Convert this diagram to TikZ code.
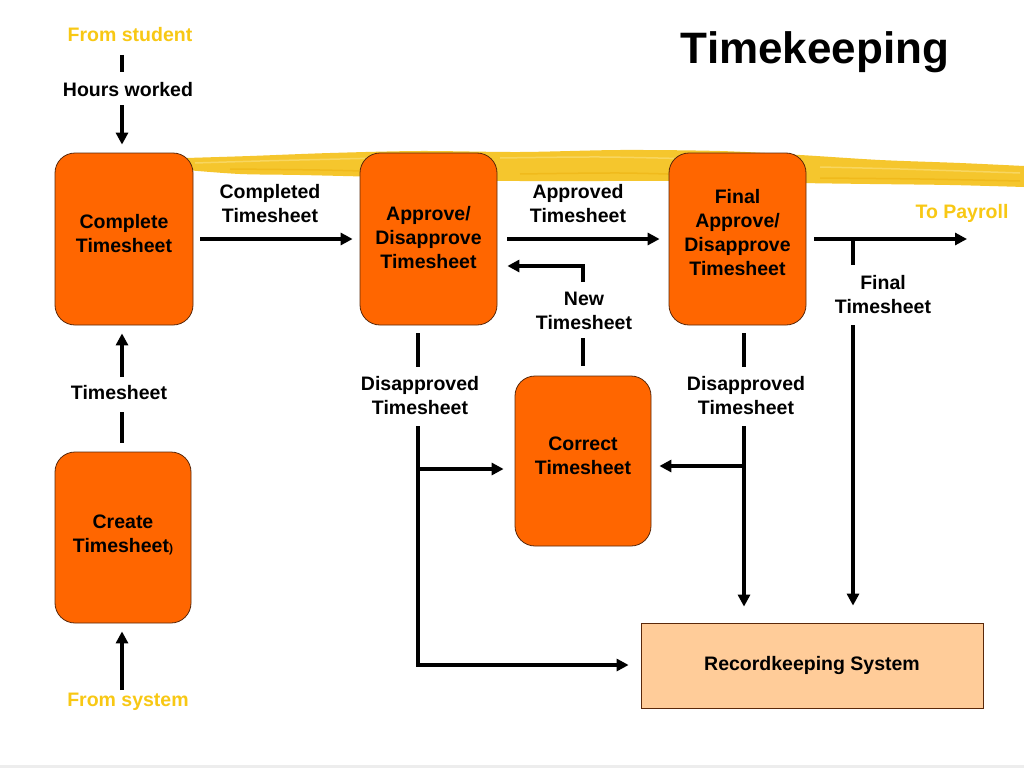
\documentclass[tikz,border=0pt]{standalone}
\usepackage{fontspec}
\setmainfont{Liberation Sans}
\usetikzlibrary{arrows.meta,calc}
\definecolor{boxorange}{RGB}{255,102,0}
\definecolor{boxedge}{RGB}{90,40,10}
\definecolor{peach}{RGB}{255,204,153}
\definecolor{gold}{RGB}{248,200,20}
\definecolor{bandY}{RGB}{245,198,45}
\definecolor{bandL}{RGB}{248,214,95}
\definecolor{bandD}{RGB}{240,186,28}
\begin{document}
\begin{tikzpicture}[x=1pt,y=-1pt,
  font=\bfseries\fontsize{19.5}{24}\selectfont,
  proc/.style={draw=boxedge, line width=0.8pt, fill=boxorange, rounded corners=20pt,
    align=center, inner sep=0pt},
  recbox/.style={draw=boxedge, line width=0.8pt, fill=peach, align=center, inner sep=0pt},
  lbl/.style={align=center, inner sep=0pt},
  ylbl/.style={lbl, text=gold},
  ln/.style={line width=4pt},
  arr/.style={ln, -{Triangle[length=12pt,width=12pt]}}]
\useasboundingbox (0,0) rectangle (1024,768);
\fill[white] (0,0) rectangle (1024,768);
% bottom rule
\fill[black!7] (0,765) rectangle (1024,768);
% brush stroke band
\fill[bandY] plot[smooth] coordinates {(186,158) (250,156) (330,153) (420,151) (520,152) (620,150) (720,151) (800,155) (880,160) (960,163) (1024,166)}
  -- plot[smooth] coordinates {(1024,187) (950,185) (870,184) (800,183) (700,181) (600,181) (520,181) (460,180) (380,177) (300,175) (240,174) (186,170)} -- cycle;
\draw[bandL, line width=1.5pt] plot[smooth] coordinates {(195,163) (260,161) (340,159) (420,157)};
\draw[bandL, line width=1.5pt] plot[smooth] coordinates {(500,158) (600,157) (700,159)};
\draw[bandL, line width=1.5pt] plot[smooth] coordinates {(820,167) (900,169) (1020,173)};
\draw[bandD, line width=1.5pt] plot[smooth] coordinates {(230,169) (320,170) (400,172)};
\draw[bandD, line width=1.5pt] plot[smooth] coordinates {(520,174) (620,173) (700,175)};
\draw[bandD, line width=1.5pt] plot[smooth] coordinates {(820,178) (920,179) (1020,181)};

% title
\node[lbl, font=\bfseries\fontsize{44}{50}\selectfont] (title) at (815,52) {Timekeeping};

% process boxes
\node[proc, minimum width=138pt, minimum height=172pt] (cts) at (124,239) {};
\node[lbl] at (124,234) {Complete\\Timesheet};
\node[proc, minimum width=137pt, minimum height=172pt] (adt) at (428.5,239) {};
\node[lbl] at (428.5,238) {Approve/\\Disapprove\\Timesheet};
\node[proc, minimum width=137pt, minimum height=172pt] (fadt) at (737.5,239) {};
\node[lbl] at (737.5,233) {Final\\Approve/\\Disapprove\\Timesheet};
\node[proc, minimum width=136pt, minimum height=170pt] (cor) at (583,461) {};
\node[lbl] at (583,456) {Correct\\Timesheet};
\node[proc, minimum width=136pt, minimum height=171pt] (crt) at (123,537.5) {};
\node[lbl] at (123,535) {Create\\Timesheet{\fontsize{12}{14}\selectfont)}};
\node[recbox, minimum width=342pt, minimum height=85pt] (rks) at (812,665.5) {Recordkeeping System};

% labels
\node[ylbl] (fs) at (130,35) {From student};
\node[lbl] (hw) at (128,90) {Hours worked};
\node[lbl] (lcomp) at (270,204) {Completed\\Timesheet};
\node[lbl] (lappr) at (578,204) {Approved\\Timesheet};
\node[ylbl] (pay) at (962,213) {To Payroll};
\node[lbl] (lfin) at (883,295) {Final\\Timesheet};
\node[lbl] (lnew) at (584,311) {New\\Timesheet};
\node[lbl] (ldis1) at (420,396) {Disapproved\\Timesheet};
\node[lbl] (ldis2) at (746,396) {Disapproved\\Timesheet};
\node[lbl] (lts) at (119,393) {Timesheet};
\node[ylbl] (fsys) at (128,702) {From system};

% connector coordinates
\coordinate (a1) at (122,55);
\coordinate (a2) at (122,72);
\coordinate (b1) at (122,105);
\coordinate (payend) at (967,239);
\coordinate (fj) at (853,239);
\coordinate (f1) at (853,265);
\coordinate (f2) at (853,325);
\coordinate (n1) at (583,282);
\coordinate (n2) at (583,338);
\coordinate (d1a) at (418,367);
\coordinate (d1b) at (418,426);
\coordinate (d1j) at (418,469);
\coordinate (d1c) at (418,665);
\coordinate (d2a) at (744,367);
\coordinate (d2b) at (744,426);
\coordinate (d2j) at (744,466);
\coordinate (t1) at (122,377);
\coordinate (t2) at (122,412);
\coordinate (s1) at (122,690);

% connectors
\draw[ln] (a1) -- (a2);
\draw[arr, shorten >=8pt] (b1) -- (b1 |- cts.north);
\draw[arr, shorten <=7pt, shorten >=7pt] (cts.east) -- (adt.west);
\draw[arr, shorten <=10pt, shorten >=9pt] (adt.east) -- (fadt.west);
\draw[arr, shorten <=8pt] (fadt.east) -- (payend);
\draw[ln] (fj) -- (f1);
\draw[arr, shorten >=17pt] (f2) -- (f2 |- rks.north);
\draw[arr, shorten >=10pt] (n1) |- (adt.east |- 0,266);
\draw[ln, shorten >=10pt] (n2) -- (n2 |- cor.north);
\draw[ln, shorten <=8pt] (d1a |- adt.south) -- (d1a);
\draw[arr, shorten >=12pt] (d1b) |- (rks.west |- d1c);
\draw[arr, shorten >=11pt] (d1j) -- (cor.west |- d1j);
\draw[ln, shorten <=8pt] (d2a |- fadt.south) -- (d2a);
\draw[arr, shorten >=16pt] (d2b) -- (d2b |- rks.north);
\draw[arr, shorten >=8pt] (d2j) -- (cor.east |- d2j);
\draw[arr, shorten >=8pt] (t1) -- (t1 |- cts.south);
\draw[ln, shorten >=9pt] (t2) -- (t2 |- crt.north);
\draw[arr, shorten >=8pt] (s1) -- (s1 |- crt.south);
\end{tikzpicture}
\end{document}
